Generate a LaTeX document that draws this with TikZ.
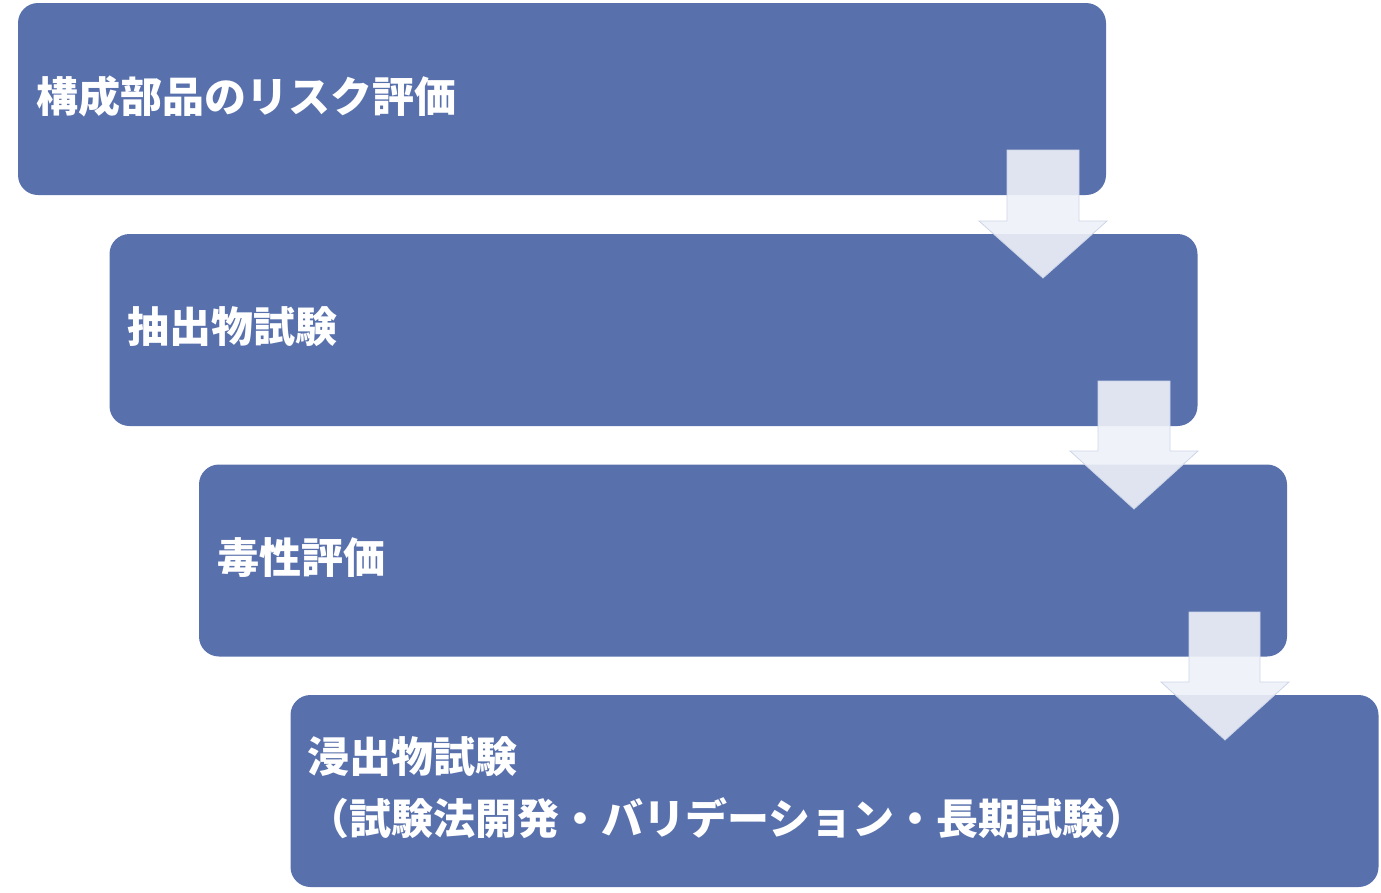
\documentclass[tikz,border=0pt]{standalone}
\usepackage{fontspec}
\newfontfamily\cjk{Noto Sans CJK JP}
\definecolor{boxblue}{RGB}{88,112,172}
\definecolor{arrfill}{RGB}{238,241,248}
\definecolor{arredge}{RGB}{205,213,232}
\begin{document}
\begin{tikzpicture}[x=1pt,y=-1pt,
  stagebox/.style={fill=boxblue, draw=none, rounded corners=20pt, minimum width=1088pt, minimum height=192pt, inner sep=0pt},
  stagetext/.style={anchor=west, inner sep=0pt, align=left, text=white, font=\cjk\bfseries\fontsize{42}{62}\selectfont},
  blockarrow/.style={fill=arrfill, fill opacity=0.9, draw=arredge, line width=0.8pt, line join=miter}]
\useasboundingbox (0,0) rectangle (1381,892);
\node[stagebox] (b1) at (562,99) {};
\node[stagebox] (b2) at (653.5,330) {};
\node[stagebox] (b3) at (743,560.5) {};
\node[stagebox] (b4) at (834.5,791) {};
\node[stagetext] (t1) at ([xshift=18pt,yshift=3pt]b1.west) {構成部品のリスク評価};
\node[stagetext] (t2) at ([xshift=18pt,yshift=3pt]b2.west) {抽出物試験};
\node[stagetext] (t3) at ([xshift=18pt,yshift=3pt]b3.west) {毒性評価};
\node[stagetext] (t4) at ([xshift=17pt,yshift=3pt]b4.west) {浸出物試験\\（試験法開発・バリデーション・長期試験）};
\draw[blockarrow] (1007,150) -- (1079,150) -- (1079,221) -- (1107,221) -- (1043,278) -- (979,221) -- (1007,221) -- cycle;
\draw[blockarrow] (1098,381) -- (1170,381) -- (1170,451) -- (1198,451) -- (1134,509) -- (1070,451) -- (1098,451) -- cycle;
\draw[blockarrow] (1189,612) -- (1260,612) -- (1260,682) -- (1289,682) -- (1225,740) -- (1161,682) -- (1189,682) -- cycle;
\end{tikzpicture}
\end{document}
